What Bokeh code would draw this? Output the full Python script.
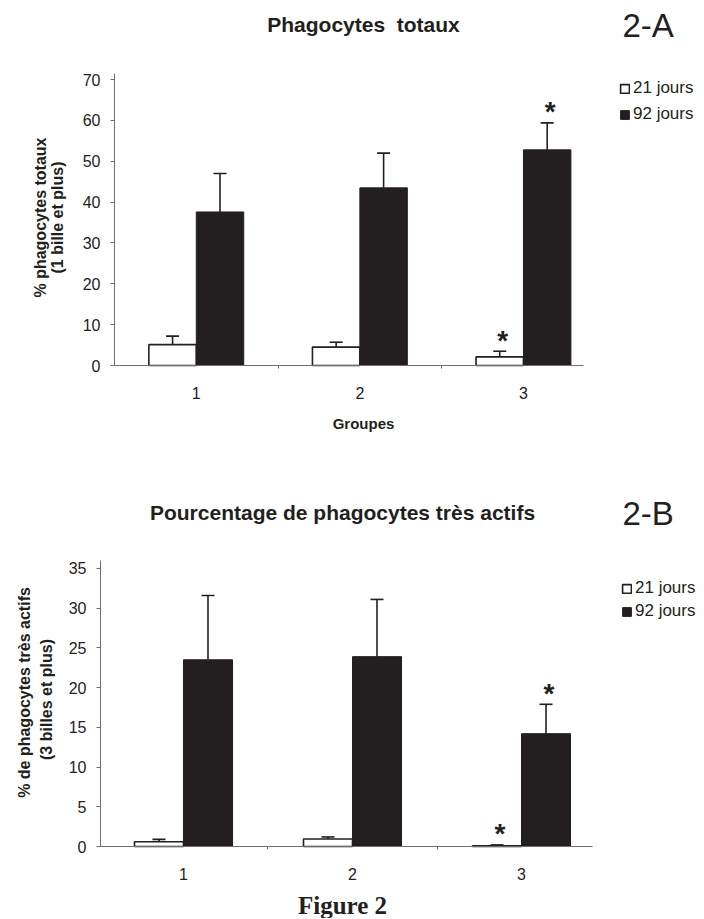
from bokeh.plotting import figure
from bokeh.models import (ColumnDataSource, Label, Legend, LegendItem, FixedTicker,
                          Whisker, TeeHead, Range1d, LinearAxis)
from bokeh.layouts import column
from bokeh.core.properties import value
from bokeh.embed import file_html
from bokeh.resources import INLINE
import math

# ---------------- data ----------------
groups = [1, 2, 3]
tick_labels = ["1", "2", "3"]
series_names = ["21 jours", "92 jours"]

# 2-A : Phagocytes totaux
a_21 = [5.1, 4.5, 2.1]
a_21_err = [2.1, 1.2, 1.4]
a_92 = [37.6, 43.5, 52.8]
a_92_err = [9.4, 8.5, 6.6]
a_21_sig = [False, False, True]
a_92_sig = [False, False, True]

# 2-B : phagocytes tres actifs
b_21 = [0.6, 0.95, 0.1]
b_21_err = [0.3, 0.25, 0.1]
b_92 = [23.5, 23.9, 14.2]
b_92_err = [8.1, 7.2, 3.7]
b_21_sig = [False, False, True]
b_92_sig = [False, False, True]

INK = "#231f20"
AXIS = "#6e6e6e"
FONT = "Liberation Sans"
BAR_W = 0.29
OFF = BAR_W / 2


def panel(spec, v21, e21, v92, e92, s21, s92, yticks, texts, legend_loc, legend_spacing):
    w, h = spec["w"], spec["h"]
    (x0, x1), (y0, y1) = spec["xr"], spec["yr"]
    kx = (x1 - x0) / (spec["R"] - spec["L"])
    ky = (y1 - y0) / (spec["B"] - spec["T"])
    xr = Range1d(x0 - spec["L"] * kx, x0 + (w - spec["L"]) * kx)
    yr = Range1d(y0 - (h - spec["B"]) * ky, y0 + spec["B"] * ky)

    def to_data(fx, fy):
        return x0 + (fx - spec["L"]) * kx, y0 + (spec["B"] - fy) * ky

    p = figure(width=w, height=h, output_backend="svg", toolbar_location=None, title=None,
               x_range=xr, y_range=yr, x_axis_location=None, y_axis_location=None,
               min_border=0, min_border_left=0, min_border_right=0,
               min_border_top=0, min_border_bottom=0)
    p.outline_line_color = None
    p.xgrid.visible = False
    p.ygrid.visible = False
    p.background_fill_color = "white"
    p.border_fill_color = "white"

    x21 = [g - OFF for g in groups]
    x92 = [g + OFF for g in groups]
    src21 = ColumnDataSource(dict(x=x21, top=v21, up=[v + e for v, e in zip(v21, e21)]))
    src92 = ColumnDataSource(dict(x=x92, top=v92, up=[v + e for v, e in zip(v92, e92)]))

    for src in (src21, src92):
        wk = Whisker(base="x", lower="top", upper="up", source=src, dimension="height",
                     line_color=INK, line_width=1.6, lower_head=None,
                     upper_head=TeeHead(size=13, line_color=INK, line_width=1.6))
        p.add_layout(wk)

    r21 = p.vbar(x="x", top="top", bottom=0, width=BAR_W, source=src21,
                 fill_color="white", line_color=INK, line_width=1.6)
    r92 = p.vbar(x="x", top="top", bottom=0, width=BAR_W, source=src92,
                 fill_color=INK, line_color=INK, line_width=1)

    # significance stars
    sx = [x for x, s in zip(x21, s21) if s] + [x for x, s in zip(x92, s92) if s]
    sy = [v + e for v, e, s in zip(v21, e21, s21) if s] + [v + e for v, e, s in zip(v92, e92, s92) if s]
    p.text(x=sx, y=sy, text=["*"] * len(sx), text_align="center", text_baseline="middle",
           y_offset=-11, x_offset=3, text_font=value(FONT), text_font_size="28px",
           text_font_style="bold", text_color=INK)

    # axes (library axes, anchored at the data origin)
    xa = LinearAxis(fixed_location=y0, bounds=(x0, x1))
    xa.ticker = FixedTicker(ticks=groups, minor_ticks=[1.5, 2.5])
    xa.major_label_overrides = {g: t for g, t in zip(groups, tick_labels)}
    xa.major_tick_out = 0
    xa.major_tick_in = 0
    xa.minor_tick_out = 3
    xa.minor_tick_in = 0
    xa.minor_tick_line_color = AXIS
    xa.axis_line_color = AXIS
    xa.major_label_standoff = 18
    xa.major_label_text_font = FONT
    xa.major_label_text_font_size = "16px"
    xa.major_label_text_color = "#222222"
    p.add_layout(xa, "below")

    ya = LinearAxis(fixed_location=x0, bounds=(y0, y1))
    ya.ticker = FixedTicker(ticks=yticks)
    ya.major_tick_out = 4
    ya.major_tick_in = 0
    ya.minor_tick_out = 0
    ya.minor_tick_in = 0
    ya.major_tick_line_color = AXIS
    ya.axis_line_color = AXIS
    ya.major_label_standoff = 10
    ya.major_label_text_font = FONT
    ya.major_label_text_font_size = "16px"
    ya.major_label_text_color = "#222222"
    p.add_layout(ya, "left")

    legend = Legend(items=[LegendItem(label=series_names[0], renderers=[r21]),
                           LegendItem(label=series_names[1], renderers=[r92])],
                    location=legend_loc, glyph_width=11, glyph_height=11, label_standoff=3,
                    padding=0, margin=0, spacing=legend_spacing, label_height=20,
                    border_line_alpha=0, background_fill_alpha=0,
                    label_text_font=FONT, label_text_font_size="17px", label_text_color=INK)
    p.add_layout(legend, "center")

    for t in texts:
        dx, dy = to_data(*t["at"])
        lab = Label(x=dx, y=dy, text=t["text"], text_font=t.get("font", FONT),
                    text_font_size=t["size"], text_font_style=t.get("style", "normal"),
                    text_color=INK, text_align=t.get("align", "center"),
                    text_baseline="middle", angle=t.get("angle", 0))
        p.add_layout(lab)
    return p


# spec: data (xr, yr) corners mapped to pixel positions L/R and B/T inside a w x h canvas
specA = dict(w=704, h=488, L=114, R=583, T=73, B=365, xr=(0.5, 3.367), yr=(0, 71.5))
textsA = [
    dict(text="Phagocytes\u00a0\u00a0totaux", at=(363, 24), size="21px", style="bold"),
    dict(text="2-A", at=(622, 25), size="33px", align="left"),
    dict(text="% phagocytes totaux", at=(40, 217), size="16px", style="bold", angle=math.pi / 2),
    dict(text="(1 bille et plus)", at=(57, 217), size="16px", style="bold", angle=math.pi / 2),
    dict(text="Groupes", at=(363, 423), size="15px", style="bold"),
]
pA = panel(specA, a_21, a_21_err, a_92, a_92_err, a_21_sig, a_92_sig,
           list(range(0, 71, 10)), textsA, (619, 488 - 124), 6)

specB = dict(w=704, h=430, L=100, R=592, T=72, B=358, xr=(0.509, 3.42), yr=(0, 36))
textsB = [
    dict(text="Pourcentage de phagocytes très actifs", at=(342, 24), size="21px", style="bold"),
    dict(text="2-B", at=(622, 25), size="33px", align="left"),
    dict(text="% de phagocytes très actifs", at=(24, 204), size="16px", style="bold", angle=math.pi / 2),
    dict(text="(3 billes et plus)", at=(46, 211), size="16px", style="bold", angle=math.pi / 2),
    dict(text="Figure 2", at=(342, 417), size="25px", style="bold", font="Liberation Serif"),
]
pB = panel(specB, b_21, b_21_err, b_92, b_92_err, b_21_sig, b_92_sig,
           list(range(0, 36, 5)), textsB, (621, 430 - 133), 3)

layout = column(pA, pB, spacing=0)
open("out.html", "w").write(file_html(layout, INLINE))
